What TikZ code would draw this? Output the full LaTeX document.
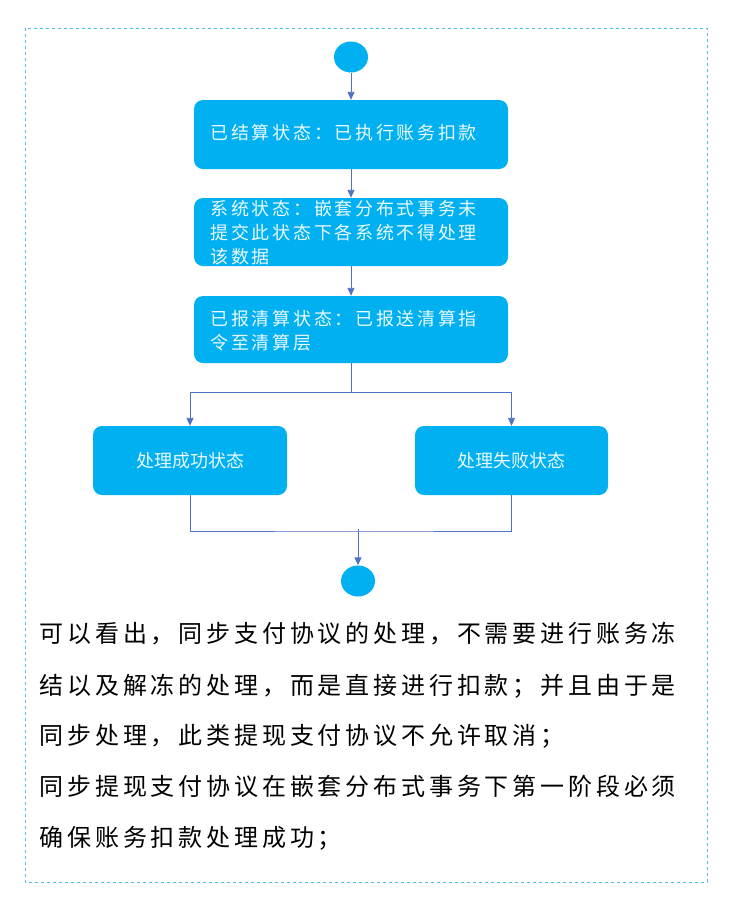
\documentclass[tikz,border=0pt]{standalone}
\usepackage{fontspec}
\setmainfont{Noto Sans CJK SC}
\usetikzlibrary{arrows.meta,shapes.geometric}
\definecolor{boxblue}{RGB}{0,176,240}
\definecolor{lineblue}{RGB}{78,114,196}
\definecolor{framecyan}{RGB}{80,190,225}

\begin{document}
\begin{tikzpicture}[x=1pt, y=-1pt,
    state/.style={fill=boxblue, rounded corners=9pt, inner sep=0pt},
    terminal/.style={ellipse, fill=boxblue, minimum width=34pt, minimum height=31pt, inner sep=0pt},
    flow/.style={draw=lineblue, line width=0.9pt},
    boxtext/.style={text=white!92!boxblue, anchor=north west, align=left,
        font=\fontsize{18}{24}\selectfont\addfontfeature{LetterSpace=15}},
    para/.style={anchor=west, font=\fontsize{24}{28}\selectfont\addfontfeature{LetterSpace=16}}]

\useasboundingbox (0,0) rectangle (731,906);

% Frame
\draw[framecyan, dashed, line width=0.8pt] (25,28) rectangle (707,882);

% States
\node[terminal] (start) at (351,57) {};
\node[state, minimum width=314pt, minimum height=69pt] (settled) at (351,134.5) {};
\node[state, minimum width=314pt, minimum height=68pt] (system) at (351,232) {};
\node[state, minimum width=314pt, minimum height=67pt] (reported) at (351,329.5) {};
\node[state, minimum width=194pt, minimum height=69pt] (success) at (190,460.5) {};
\node[state, minimum width=193pt, minimum height=69pt] (fail) at (511.5,460.5) {};
\node[terminal] (stop) at (358,581) {};

% Texts
\node[boxtext] (settledtext) at (207,121) {已结算状态：已执行账务扣款};
\node[boxtext] (systemtext) at (207,197) {系统状态：嵌套分布式事务未\\提交此状态下各系统不得处理\\该数据};
\node[boxtext] (reportedtext) at (207,307) {已报清算状态：已报送清算指\\令至清算层};
\node[text=white!92!boxblue, font=\fontsize{18}{24}\selectfont] (successtext) at (success) {处理成功状态};
\node[text=white!92!boxblue, font=\fontsize{18}{24}\selectfont] (failtext) at (fail) {处理失败状态};

% Connectors
\coordinate (split) at (351,392);
\coordinate (join) at (358,531);
\draw[flow, -{Triangle[length=8pt, width=7pt]}] (start) -- (settled);
\draw[flow, -{Triangle[length=8pt, width=7pt]}] (settled) -- (system);
\draw[flow, -{Triangle[length=8pt, width=7pt]}] (system) -- (reported);
\draw[flow] (reported) -- (split);
\draw[flow, -{Triangle[length=8pt, width=7pt]}] (split) -| (success);
\draw[flow, -{Triangle[length=8pt, width=7pt]}] (split) -| (fail);
\draw[flow] (success) |- (join) -| (fail);
\draw[flow, -{Triangle[length=8pt, width=7pt]}] ([yshift=2pt]join) -- (stop);

% Paragraph
\node[para] (line1) at (36,634) {可以看出，同步支付协议的处理，不需要进行账务冻};
\node[para] (line2) at (36,686) {结以及解冻的处理，而是直接进行扣款；并且由于是};
\node[para] (line3) at (36,736) {同步处理，此类提现支付协议不允许取消；};
\node[para] (line4) at (36,786) {同步提现支付协议在嵌套分布式事务下第一阶段必须};
\node[para] (line5) at (36,838) {确保账务扣款处理成功；};

\end{tikzpicture}
\end{document}
